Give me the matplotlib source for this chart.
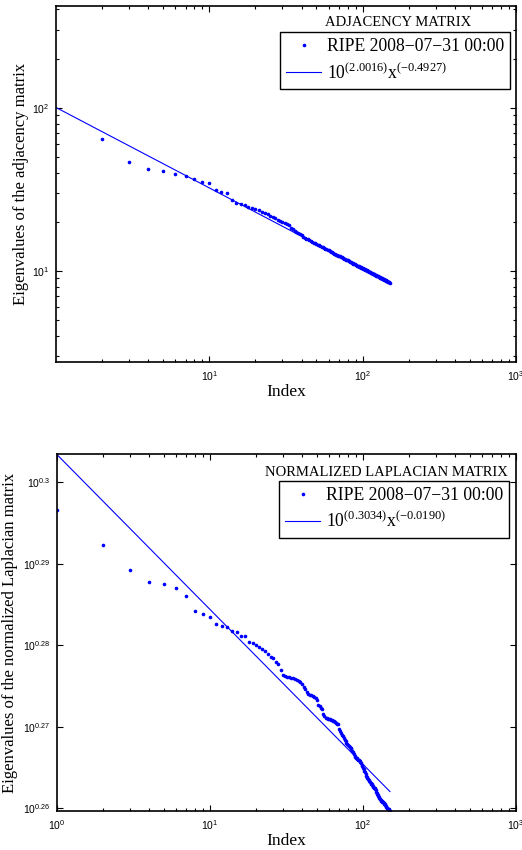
import numpy as np
import matplotlib
matplotlib.use("Agg")
import matplotlib.pyplot as plt
from matplotlib.ticker import FixedLocator, FuncFormatter, NullLocator, NullFormatter

plt.rcParams['mathtext.fontset'] = 'custom'
plt.rcParams['mathtext.rm'] = 'Liberation Serif'
plt.rcParams['mathtext.sf'] = 'Liberation Sans'
plt.rcParams['font.family'] = ['Liberation Serif', 'DejaVu Sans']

# ---------------- data ----------------
adj_eigs = [64.3, 46.4, 42.1, 41.2, 39.2, 38.1, 36.6, 35.1, 34.7, 31.3,
            30.5, 30.0, 27.2, 26.1, 25.6, 25.2, 24.7, 24.2, 24.0, 23.5,
            23.1, 22.7, 22.3, 21.8, 21.4, 21.0, 20.6, 20.3, 19.9, 19.7,
            19.4, 19.1, 18.4, 18.0, 17.7, 17.4, 17.1, 16.8, 16.5, 16.2,
            16.0, 15.8, 15.6, 15.4, 15.3, 15.1, 14.9, 14.8, 14.6, 14.5,
            14.4, 14.2, 14.1, 14.0, 13.8, 13.7, 13.6, 13.5, 13.4, 13.2,
            13.1, 13.0, 12.9, 12.8, 12.7, 12.6, 12.5, 12.4, 12.4, 12.3,
            12.2, 12.1, 12.05, 12.0, 11.9, 11.8, 11.75, 11.65, 11.6, 11.5,
            11.45, 11.4, 11.3, 11.25, 11.2, 11.1, 11.05, 11.0, 10.9, 10.9,
            10.8, 10.75, 10.7, 10.65, 10.6, 10.55, 10.5, 10.45, 10.4, 10.33,
            10.28, 10.23, 10.18, 10.14, 10.09, 10.04, 9.99, 9.95, 9.90, 9.86,
            9.82, 9.78, 9.74, 9.70, 9.65, 9.61, 9.57, 9.53, 9.49, 9.45,
            9.42, 9.38, 9.34, 9.31, 9.27, 9.23, 9.19, 9.16, 9.12, 9.09,
            9.06, 9.02, 8.99, 8.96, 8.92, 8.89, 8.86, 8.82, 8.79, 8.76,
            8.73, 8.70, 8.67, 8.64, 8.62, 8.59, 8.56, 8.53, 8.50]
adj_start_index = 2

lap_eigs = [1.9795, 1.9601, 1.9466, 1.9399, 1.9390, 1.9367, 1.9320, 1.9242, 1.9224, 1.9208,
            1.9170, 1.9161, 1.9152, 1.9133, 1.9128, 1.9105, 1.9103, 1.9072, 1.9066, 1.9057,
            1.9048, 1.9037, 1.9026, 1.9006, 1.8994, 1.8989, 1.8963, 1.8954, 1.8921, 1.8897,
            1.8892, 1.8887, 1.8885, 1.8882, 1.8877, 1.8872, 1.8870, 1.8866, 1.8859, 1.8845,
            1.8834, 1.8819, 1.8803, 1.8793, 1.8790, 1.8787, 1.8784, 1.8781, 1.8775, 1.8763,
            1.8736, 1.8729, 1.8722, 1.8716, 1.8690, 1.8677, 1.8668, 1.8666, 1.8664, 1.8662,
            1.8660, 1.8657, 1.8655, 1.8653, 1.8650, 1.8646, 1.8640, 1.8637, 1.8634, 1.8610,
            1.8599, 1.8588, 1.8580, 1.8573, 1.8561, 1.8551, 1.8544, 1.8537, 1.8533, 1.8526,
            1.8520, 1.8514, 1.8509, 1.8505, 1.8495, 1.8488, 1.8476, 1.8467, 1.8463, 1.8459,
            1.8455, 1.8451, 1.8448, 1.8446, 1.8443, 1.8438, 1.8431, 1.8423, 1.8414, 1.8406,
            1.8398, 1.8391, 1.8383, 1.8374, 1.8365, 1.8359, 1.8352, 1.8346, 1.8342, 1.8337,
            1.8333, 1.8327, 1.8323, 1.8321, 1.8316, 1.8312, 1.8308, 1.8304, 1.8302, 1.8297,
            1.8289, 1.8281, 1.8274, 1.8270, 1.8266, 1.8261, 1.8257, 1.8251, 1.8246, 1.8243,
            1.8240, 1.8237, 1.8234, 1.8232, 1.8231, 1.8227, 1.8224, 1.8221, 1.8218, 1.8214,
            1.8210, 1.8205, 1.8201, 1.8197, 1.8195, 1.8193, 1.8191, 1.8189, 1.8187, 1.8184]
lap_start_index = 1

adj_fit = (2.0016, -0.4927)
lap_fit = (0.3034, -0.0190)
fit_x_range = [1, 150]

series_label = "RIPE 2008\u221207\u221231 00:00"
adj_title = "ADJACENCY MATRIX"
lap_title = "NORMALIZED LAPLACIAN MATRIX"
adj_ylabel = "Eigenvalues of the adjacency matrix"
lap_ylabel = "Eigenvalues of the normalized Laplacian matrix"
xlabel = "Index"
x_major = [1, 10, 100, 1000]
lap_y_major_exp = [0.26, 0.27, 0.28, 0.29, 0.30]

# ---------------- figure ----------------
W, H = 522, 850
fig = plt.figure(figsize=(W / 100, H / 100), dpi=100)

def px_axes(l, t, r, b):
    return fig.add_axes([l / W, 1 - b / H, (r - l) / W, (b - t) / H])

ax1 = px_axes(56, 6.3, 516, 362.3)
ax2 = px_axes(57, 454.3, 516, 811)

tick_fs = 7.5

def dec_fmt(v, pos):
    e = int(round(np.log10(v)))
    return r'$\mathsf{10^{%d}}$' % e

def style(ax):
    ax.set_xscale('log')
    ax.set_yscale('log')
    for s in ax.spines.values():
        s.set_linewidth(1.2)
    ax.tick_params(which='both', direction='in', top=True, right=True,
                   labelsize=tick_fs, width=0.8, pad=5)
    ax.tick_params(which='major', length=4.5)
    ax.tick_params(which='minor', length=2.5)
    ax.xaxis.set_major_locator(FixedLocator(x_major))
    ax.xaxis.set_major_formatter(FuncFormatter(dec_fmt))
    ax.xaxis.set_minor_locator(FixedLocator(
        [m * 10 ** k for k in range(0, 3) for m in range(2, 10)]))
    ax.xaxis.set_minor_formatter(NullFormatter())
    ax.set_xlim(1.0, 1000)

def fit_line(ax, coef):
    a, b = coef
    xs = np.array(fit_x_range, dtype=float)
    ax.plot(xs, 10 ** a * xs ** b, color='b', lw=0.8,
            label=r'$\mathrm{10^{(%.4f)}x^{(%.4f)}}$' % (a, b))

# ---- top: adjacency ----
style(ax1)
ax1.set_xlim(1.001, 1000)
x1 = np.arange(adj_start_index, adj_start_index + len(adj_eigs))
ax1.plot(x1, adj_eigs, linestyle='none', marker='.', markersize=3.2,
         color='b', label=series_label)
fit_line(ax1, adj_fit)
ax1.set_ylim(10 ** 0.441, 10 ** 2.621)
ax1.yaxis.set_major_locator(FixedLocator([10, 100]))
ax1.yaxis.set_major_formatter(FuncFormatter(dec_fmt))
ax1.yaxis.set_minor_locator(FixedLocator(
    [m * 10 ** k for k in range(0, 3) for m in range(2, 10)]))
ax1.yaxis.set_minor_formatter(NullFormatter())

# ---- bottom: normalized laplacian ----
style(ax2)
x2 = np.arange(lap_start_index, lap_start_index + len(lap_eigs))
ax2.plot(x2, lap_eigs, linestyle='none', marker='.', markersize=3.2,
         color='b', label=series_label)
fit_line(ax2, lap_fit)
ax2.set_ylim(10 ** 0.25967, 10 ** 0.30344)
ax2.yaxis.set_major_locator(FixedLocator([10 ** e for e in lap_y_major_exp]))
ax2.yaxis.set_major_formatter(FuncFormatter(
    lambda v, p: r'$\mathsf{10^{%s}}$' % ('%g' % round(np.log10(v), 2))))
ax2.yaxis.set_minor_locator(NullLocator())

# labels
for ax, yl, ylx in ((ax1, adj_ylabel, -0.058), (ax2, lap_ylabel, -0.084)):
    ax.set_ylabel(yl, fontsize=12)
    ax.yaxis.set_label_coords(ylx, 0.5)
    ax.set_xlabel(xlabel, fontsize=12.5, va='top')
    ax.xaxis.set_label_coords(0.5, -0.062)

# legends + titles
leg_kw = dict(loc='upper right', fontsize=12.7, frameon=True, fancybox=False,
              framealpha=1, edgecolor='black', borderaxespad=0, borderpad=0.35,
              handlelength=2.0, handletextpad=0.3, labelspacing=0.4,
              numpoints=1)
lg1 = ax1.legend(bbox_to_anchor=(0.987, 0.927), **leg_kw)
lg2 = ax2.legend(bbox_to_anchor=(0.985, 0.925), **leg_kw)
for lg in (lg1, lg2):
    lg.get_frame().set_linewidth(1.0)
    lg.legend_handles[0].set_markersize(3.2)

ax1.text(0.743, 0.954, adj_title, transform=ax1.transAxes, ha='center',
         va='center', fontsize=10.5)
ax2.text(0.9826, 0.9496, lap_title, transform=ax2.transAxes, ha='right',
         va='center', fontsize=10.5)

fig.savefig('out.png', dpi=100)
